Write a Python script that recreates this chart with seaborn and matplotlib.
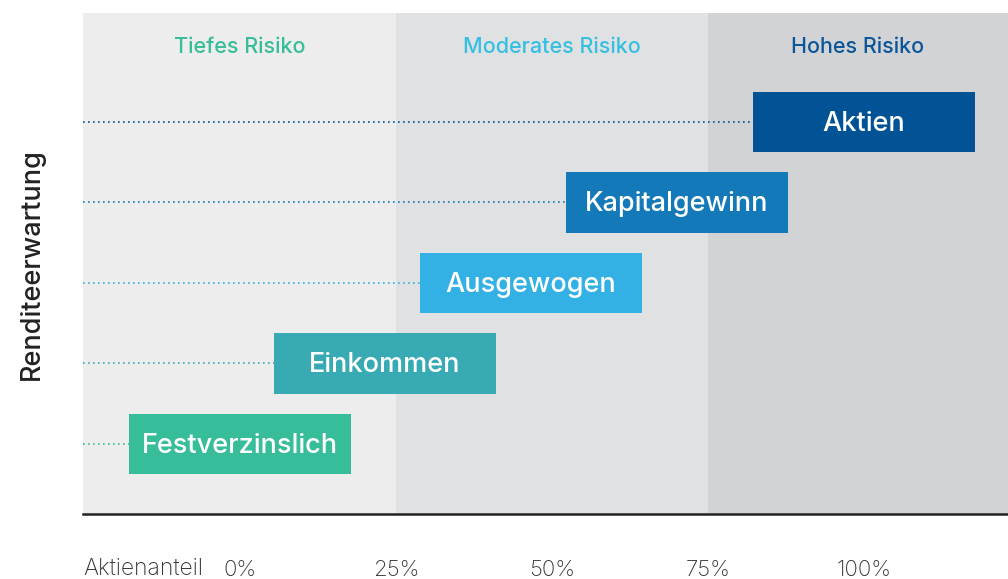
import matplotlib
matplotlib.use("Agg")
import matplotlib.pyplot as plt
import seaborn as sns
import pandas as pd

# Anlagestrategien: Bereich des Aktienanteils (in %), von oben nach unten
strategien = ['Aktien', 'Kapitalgewinn', 'Ausgewogen', 'Einkommen', 'Festverzinslich']
start = [82.2, 52.2, 28.8, 5.4, -17.9]
ende = [117.8, 87.8, 64.4, 41.0, 17.7]
farben = ['#025396', '#1479b8', '#33b0e4', '#38aab4', '#37bd9a']

# Risikozonen
zonen = ['Tiefes Risiko', 'Moderates Risiko', 'Hohes Risiko']
zonen_von = [-25.2, 25, 75]
zonen_bis = [25, 75, 123.1]
zonen_bg = ['#ededed', '#e0e1e3', '#d2d3d5']
zonen_text = ['#37bd9a', '#35bfe0', '#0b5598']

ticks = [0, 25, 50, 75, 100]
tick_labels = ['0%', '25%', '50%', '75%', '100%']

df = pd.DataFrame({'strategie': strategien, 'start': start, 'ende': ende})
df['breite'] = df['ende'] - df['start']

sns.set_theme(style='white')
plt.rcParams['font.family'] = ['Inter', 'DejaVu Sans']

fig = plt.figure(figsize=(10.08, 5.79), dpi=100)
ax = fig.add_axes([83 / 1008, 65 / 579, 925 / 1008, 501 / 579])

# Balken ueber seaborn, danach an den Startwert verschoben
sns.barplot(data=df, x='breite', y='strategie', order=strategien, orient='h',
            palette=farben, hue='strategie', legend=False, width=0.75,
            saturation=1, linewidth=0, ax=ax, zorder=2)
for container in ax.containers:
    for bar in container:
        idx = int(round(bar.get_y() + bar.get_height() / 2))
        bar.set_x(df['start'][idx])

# Hintergrund der Risikozonen
for von, bis, bg, name, col in zip(zonen_von, zonen_bis, zonen_bg, zonen, zonen_text):
    ax.axvspan(von, bis, color=bg, lw=0, zorder=0)
    ax.text((von + bis) / 2, -0.93, name, ha='center', va='center',
            fontsize=15.5, color=col, fontweight='medium', zorder=3)

for i, row in df.iterrows():
    # gepunktete Linie bis zum Balken
    ax.plot([zonen_von[0], row['start']], [i, i], color=farben[i], lw=1.2,
            linestyle=(0, (1, 2)), zorder=1)
    ax.text((row['start'] + row['ende']) / 2, i + 0.02, row['strategie'], ha='center',
            va='center', color='white', fontsize=19.5, fontweight='medium', zorder=3)

ax.set_xlim(zonen_von[0], zonen_bis[-1])
ax.set_ylim(4.87, -1.354)
ax.set_yticks([])
ax.set_xticks(ticks)
ax.set_xticklabels(tick_labels, fontsize=16, color='#333333', fontweight='light')
ax.tick_params(axis='x', length=0, pad=33)
ax.set_xlabel('')
ax.set_ylabel('')
for side in ['top', 'right', 'left']:
    ax.spines[side].set_visible(False)
ax.spines['bottom'].set_color('#222222')
ax.spines['bottom'].set_linewidth(1.8)

fig.text(83 / 1008, 1 - 575 / 579, 'Aktienanteil', ha='left', va='baseline',
         fontsize=16.5, color='#333333', fontweight='light')
fig.text(32 / 1008, 1 - 264 / 579, 'Renditeerwartung', rotation=90, ha='center',
         va='center', fontsize=19.5, color='#222222', fontweight='medium')

fig.savefig('out.png', dpi=100)
